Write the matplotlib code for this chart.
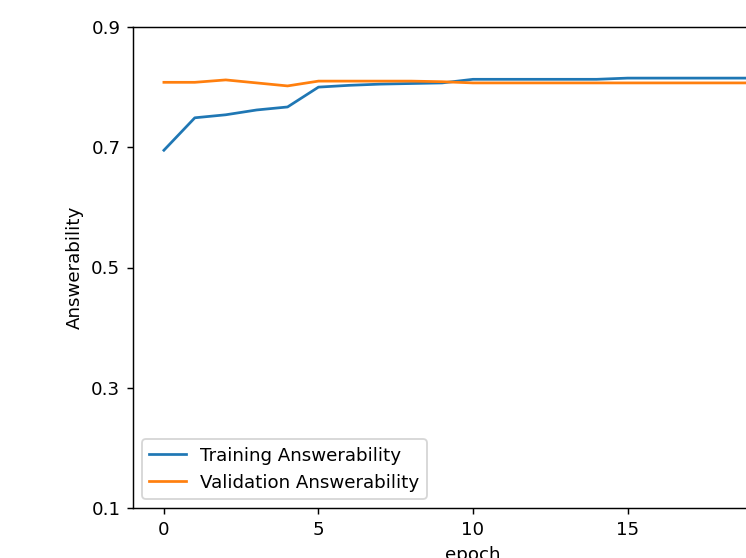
import matplotlib
matplotlib.use("Agg")
import matplotlib.pyplot as plt

# answerability per epoch
epochs = list(range(21))
train_ans = [0.695, 0.749, 0.754, 0.762, 0.767, 0.800, 0.803, 0.805, 0.806, 0.807,
             0.813, 0.813, 0.813, 0.813, 0.813, 0.815, 0.815, 0.815, 0.815, 0.815, 0.815]
val_ans = [0.808, 0.808, 0.812, 0.807, 0.802, 0.810, 0.810, 0.810, 0.810, 0.809,
           0.807, 0.807, 0.807, 0.807, 0.807, 0.807, 0.807, 0.807, 0.807, 0.807, 0.807]
x_ticks = [0, 5, 10, 15, 20]
y_ticks = [0.1, 0.3, 0.5, 0.7, 0.9]

dpi = 131
fig = plt.figure(figsize=(746 / dpi, 558 / dpi), dpi=dpi)
# axes run off the right and bottom edges like the reference crop
ax = fig.add_axes([133 / 746, 50 / 558, 680 / 746, 481 / 558])
ax.plot(epochs, train_ans, label="Training Answerability")
ax.plot(epochs, val_ans, label="Validation Answerability")
ax.set_ylim(0.1, 0.9)
ax.set_xticks(x_ticks)
ax.set_yticks(y_ticks)
ax.set_xlabel("epoch")
ax.set_ylabel("Answerability")
ax.legend(loc="lower left")

plt.savefig("out.png", dpi=dpi)
